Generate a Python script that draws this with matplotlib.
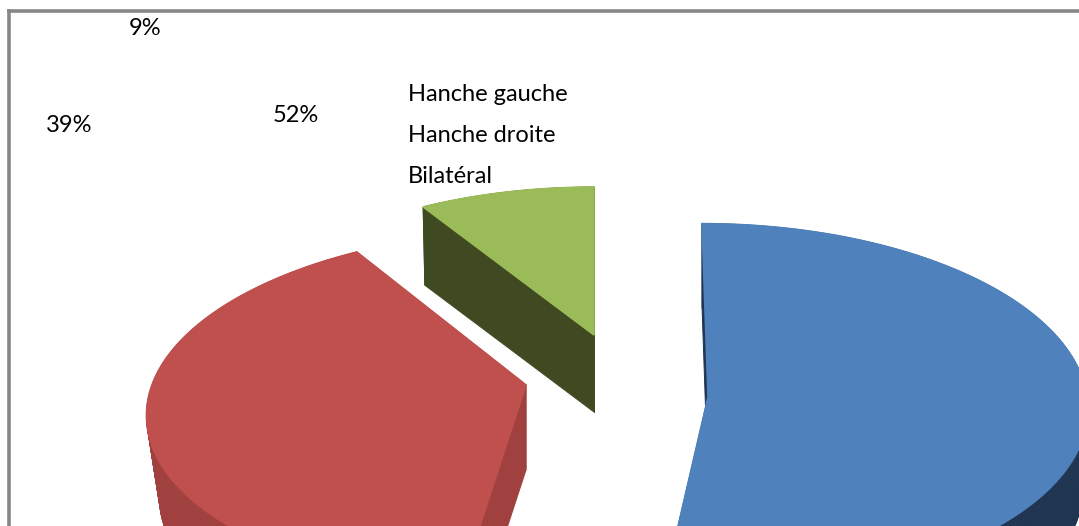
import numpy as np
import matplotlib
matplotlib.use('Agg')
import matplotlib.pyplot as plt
from matplotlib.patches import Polygon

categories = ['Hanche gauche', 'Hanche droite', 'Bilatéral']
values = [52, 39, 9]
pct_labels = ['52%', '39%', '9%']
top_colors = ['#4f81bd', '#c0504d', '#9bbb59']
side_colors = ['#1f3552', '#a0413f', '#3f4a22']

# one perspective per exploded slice: apex x/y, x radius, y radius, perspective, skew, depth, base shrink
views = [
    (708, 397, 379, 182, 0.05, -6, 82, 0.985),
    (526, 385, 374, 176, 0.139, 12, 85, 0.965),
    (594, 335, 370, 176, 0.19, 0, 77, 0.99),
]
pct_pos = [(296, 115), (69, 125), (145, 28)]
legend_pos = [(408, 94), (408, 135), (408, 176)]

plt.rcParams['font.family'] = ['Lato', 'DejaVu Sans']
fig = plt.figure(figsize=(10.79, 5.26), dpi=100)
ax = fig.add_axes([9 / 1079, 0, 1070 / 1079, 515 / 526])
ax.set_xlim(9, 1079)
ax.set_ylim(526, 11)
ax.set_xticks([])
ax.set_yticks([])
for side in ['right', 'bottom']:
    ax.spines[side].set_visible(False)
for side in ['left', 'top']:
    ax.spines[side].set_color('#868686')
    ax.spines[side].set_linewidth(2.6)


def project(pts, view, base=False):
    cx, cy, k, m, p, skew, depth, shrink = view
    u, v = pts[:, 0], pts[:, 1]
    w = 1 + p * v
    x = cx + k * u / w + skew * v
    y = cy - m * v / w
    if base:
        x = cx + (x - cx) * shrink
        y = cy + depth + (y - cy) * shrink
    return np.column_stack([x, y])


edges = np.cumsum([0] + values) / sum(values) * 360
for i in range(len(values)):
    # angles run clockwise from twelve o'clock
    theta = np.radians(np.linspace(edges[i], edges[i + 1], 200))
    arc = np.column_stack([np.sin(theta), np.cos(theta)])
    outline = np.vstack([[[0, 0]], arc, [[0, 0]]])
    top = project(outline, views[i])
    bottom = project(outline, views[i], base=True)
    for j in range(len(top) - 1):
        quad = [top[j], top[j + 1], bottom[j + 1], bottom[j]]
        ax.add_patch(Polygon(quad, facecolor=side_colors[i], edgecolor=side_colors[i], lw=0.7, zorder=1))
    # same colour edge hides the hairline left by the side faces
    ax.add_patch(Polygon(top, facecolor=top_colors[i], edgecolor=top_colors[i], lw=1.2, zorder=1.5))

for label, (x, y) in zip(pct_labels, pct_pos):
    ax.text(x, y, label, fontsize=17, ha='center', va='center', color='black')
for name, (x, y) in zip(categories, legend_pos):
    ax.text(x, y, name, fontsize=17, ha='left', va='center', color='black')

fig.savefig('out.png', dpi=100)
